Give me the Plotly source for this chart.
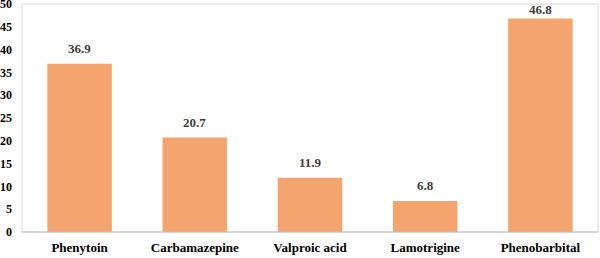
import plotly.graph_objects as go

categories = ["Phenytoin", "Carbamazepine", "Valproic acid", "Lamotrigine", "Phenobarbital"]
values = [36.9, 20.7, 11.9, 6.8, 46.8]
y_ticks = [0, 5, 10, 15, 20, 25, 30, 35, 40, 45, 50]

BAR_COLOR = "#F4A46F"
FONT = "Times New Roman"

fig = go.Figure(go.Bar(x=categories, y=values, marker=dict(color=BAR_COLOR, line=dict(width=0)),
                       hoverinfo="skip"))

for c, v in zip(categories, values):
    fig.add_annotation(x=c, y=v, text=f"<b>{v:.1f}</b>", showarrow=False, yanchor="middle",
                       yshift=15 if v < 45 else 9,
                       font=dict(family=FONT, size=13, color="#404040"))

fig.update_layout(
    width=600, height=258,
    margin=dict(l=22, r=2, t=4, b=26),
    paper_bgcolor="white", plot_bgcolor="white",
    bargap=0.44, showlegend=False,
    font=dict(family=FONT, size=13, color="#000000"),
)
fig.update_xaxes(showline=False, ticks="",
                 tickvals=categories, ticktext=[f"<b>{c}</b>" for c in categories],
                 tickfont=dict(family=FONT, size=13, color="#000"),
                 ticklabelstandoff=6)
fig.update_yaxes(range=[0, 50], tickvals=y_ticks, ticktext=[f"<b>{t}</b>" for t in y_ticks],
                 showgrid=False, zeroline=False, showline=False, ticks="",
                 tickfont=dict(family=FONT, size=12, color="#000"),
                 ticklabelstandoff=9, automargin=False, ticklabeloverflow="allow")
# plot area border
fig.add_shape(type="rect", xref="paper", yref="paper", x0=0, y0=0, x1=1, y1=1,
              line=dict(color="#D9D9D9", width=1), layer="below")
fig.add_shape(type="line", xref="paper", yref="paper", x0=0, y0=0, x1=1, y1=0,
              line=dict(color="#BFBFBF", width=1))

fig.write_html("out.html")
